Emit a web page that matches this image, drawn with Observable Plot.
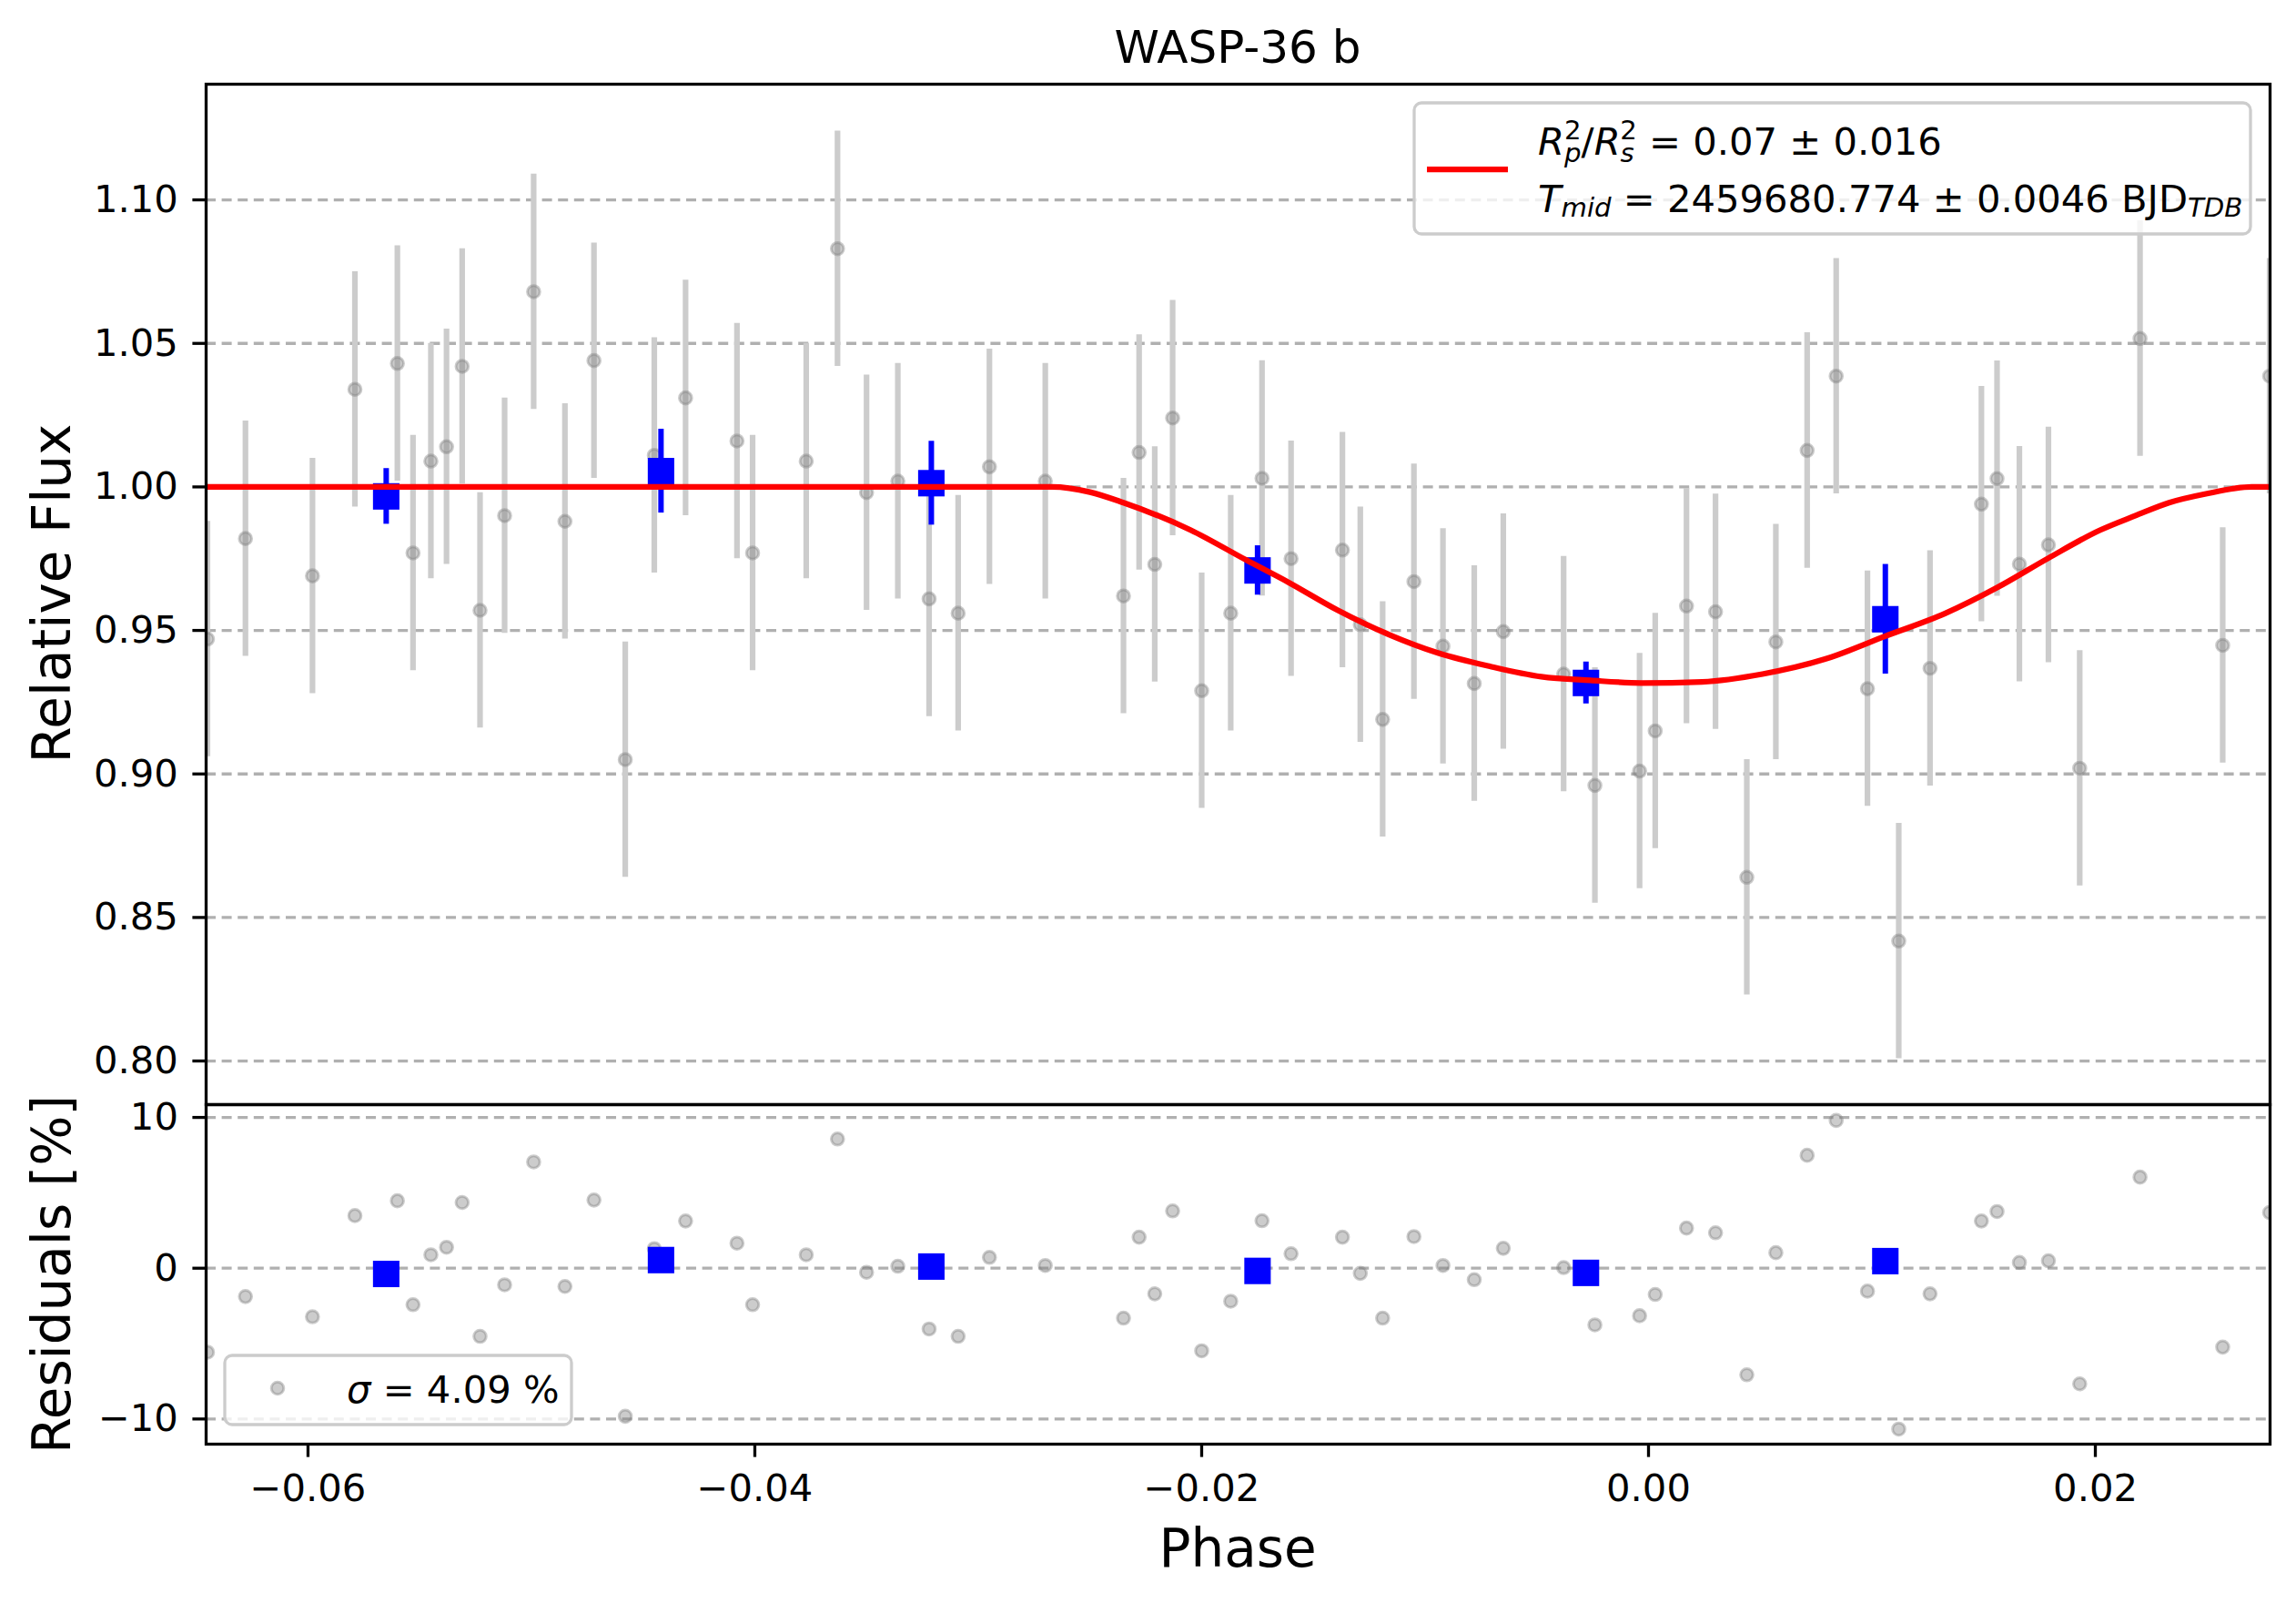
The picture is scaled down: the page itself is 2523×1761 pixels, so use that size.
<!DOCTYPE html>
<html><head><meta charset="utf-8">
<script src="https://cdn.jsdelivr.net/npm/d3@7"></script>
<script src="https://cdn.jsdelivr.net/npm/@observablehq/plot@0.6"></script>
<style>
html,body{margin:0;padding:0;background:#fff;}
#wrap{position:relative;width:2523px;height:1761px;background:#fff;font-family:"DejaVu Sans",sans-serif;}
#wrap > svg{position:absolute;left:0;}
</style></head><body><div id="wrap"></div>
<script>
// ---- data ----
const phase = [
-0.0645,-0.0628,-0.0598,-0.0579,-0.0560,-0.0553,-0.0545,-0.0538,-0.0531,-0.0523,-0.0512,-0.0499,-0.0485,-0.0472,-0.0458,-0.0445,-0.0431,
-0.0408,-0.0401,-0.0377,-0.0363,-0.0350,-0.0336,-0.0322,-0.0309,-0.0295,-0.0270,-0.0235,-0.0228,-0.0221,-0.0213,-0.0200,-0.0187,
-0.0173,-0.0160,-0.0137,-0.0129,-0.0119,-0.0105,-0.0092,-0.0078,-0.0065,-0.0038,-0.0024,-0.0004,0.0003,0.0017,0.0030,0.0044,
0.0057,0.0071,0.0084,0.0098,0.0112,0.0126,0.0149,0.0156,0.0166,0.0179,0.0193,0.0220,0.0257,0.0278];
const flux = [
0.947,0.982,0.969,1.034,1.043,0.977,1.009,1.014,1.042,0.957,0.990,1.068,0.988,1.044,0.905,1.011,1.031,
1.016,0.977,1.009,1.083,0.998,1.002,0.961,0.956,1.007,1.002,0.962,1.012,0.973,1.024,0.929,0.956,
1.003,0.975,0.978,0.952,0.919,0.967,0.9445,0.9315,0.9496,0.9348,0.896,0.901,0.915,0.9585,0.9565,0.864,
0.946,1.0127,1.0386,0.9297,0.8418,0.9368,0.994,1.0029,0.9731,0.9798,0.902,1.0517,0.9448,1.0386];
const resid = [
-5.57,-1.88,-3.22,3.49,4.47,-2.42,0.89,1.39,4.36,-4.52,-1.10,7.05,-1.21,4.52,-9.82,1.30,3.13,
1.66,-2.42,0.89,8.57,-0.27,0.13,-4.03,-4.52,0.72,0.18,-3.31,2.06,-1.70,3.80,-5.48,-2.19,
3.15,0.96,2.06,-0.34,-3.31,2.10,0.18,-0.76,1.32,0.04,-3.76,-3.15,-1.74,2.66,2.35,-7.07,
1.03,7.49,9.80,-1.52,-10.67,-1.70,3.13,3.76,0.38,0.49,-7.67,6.04,-5.23,3.69];
const fluxErr = 0.041;

const binPhase = [-0.0565,-0.0442,-0.0321,-0.0175,-0.0028,0.0106];
const binFlux  = [0.9967,1.0055,1.0013,0.9709,0.9317,0.9539];
const binErr   = [0.0097,0.0146,0.0146,0.0086,0.0073,0.0191];
const binResid = [-0.38,0.54,0.11,-0.18,-0.31,0.47];

const modelPhase = [-0.0646,-0.0267,-0.0250,-0.0235,-0.0205,-0.0180,-0.0161,-0.0139,-0.0116,-0.0094,-0.0071,-0.0048,-0.0026,-0.0003,0.0024,0.0051,0.0079,0.0106,0.0133,0.0156,0.0179,0.0202,0.0218,0.0233,0.0249,0.0270,0.0279];
const modelFlux  = [1.000,1.000,0.9982,0.9945,0.985,0.9745,0.9667,0.9570,0.9485,0.9421,0.9375,0.9339,0.9326,0.9317,0.9321,0.9348,0.9400,0.9480,0.9560,0.9649,0.9752,0.9849,0.9900,0.9945,0.9975,1.000,1.000];

const yTicksTop = [0.80,0.85,0.90,0.95,1.00,1.05,1.10];
const yTicksBottom = [-10,0,10];
const xTicks = [-0.06,-0.04,-0.02,0.00,0.02];

const title = "WASP-36 b";
const xLabel = "Phase";
const yLabelTop = "Relative Flux";
const yLabelBottom = "Residuals [%]";

// ---- tables ----
const pts = phase.map((p,i)=>({phase:p, flux:flux[i], resid:resid[i], lo:flux[i]-fluxErr, hi:flux[i]+fluxErr}));
const bins = binPhase.map((p,i)=>({phase:p, flux:binFlux[i], resid:binResid[i], lo:binFlux[i]-binErr[i], hi:binFlux[i]+binErr[i]}));
const model = modelPhase.map((p,i)=>({phase:p, flux:modelFlux[i]}));

const W = 2523, H = 1761;
const left = 226, right = 29, topY = 92, split = 1213, bottomFrame = 1586;
const xDomain = [-0.06456, 0.02782];
const fs = 41.7;
const style = {fontFamily:"DejaVu Sans", fontSize: fs+"px", background:"transparent", color:"black", overflow:"visible"};
const grid = {stroke:"#b0b0b0", strokeOpacity:1, strokeWidth:3.3, strokeDasharray:"11,6.6"};
const dotStyle = {r:6.8, fill:"gray", fillOpacity:0.4, stroke:"gray", strokeOpacity:0.4, strokeWidth:3, clip:true};

const topPlot = Plot.plot({
  width: W, height: split,
  marginTop: topY, marginBottom: 0, marginLeft: left, marginRight: right,
  style,
  x: {domain: xDomain, axis: null},
  y: {domain: [0.7848, 1.1403]},
  marks: [
    Plot.gridY(yTicksTop, grid),
    Plot.ruleX(pts, {x:"phase", y1:"lo", y2:"hi", stroke:"#cccccc", strokeWidth:6.2, clip:true}),
    Plot.dot(pts, {x:"phase", y:"flux", ...dotStyle}),
    Plot.ruleX(bins, {x:"phase", y1:"lo", y2:"hi", stroke:"blue", strokeWidth:6}),
    Plot.dot(bins, {x:"phase", y:"flux", symbol:"square", r:16.4, fill:"blue", stroke:"none"}),
    Plot.line(model, {x:"phase", y:"flux", stroke:"red", strokeWidth:6.25, curve:"monotone-x", clip:true}),
    Plot.frame({stroke:"black", strokeWidth:3.3}),
    Plot.axisY({ticks: yTicksTop, tickFormat: d3.format(".2f"), tickSize:14.6, tickPadding:16, strokeWidth:3.3, fontSize:fs, label:null})
  ]
});

const botPlot = Plot.plot({
  width: W, height: H - split,
  marginTop: 0, marginBottom: H - bottomFrame, marginLeft: left, marginRight: right,
  style,
  x: {domain: xDomain},
  y: {domain: [-11.67, 10.85]},
  marks: [
    Plot.gridY(yTicksBottom, grid),
    Plot.dot(pts, {x:"phase", y:"resid", ...dotStyle}),
    Plot.dot(bins, {x:"phase", y:"resid", symbol:"square", r:16.4, fill:"blue", stroke:"none"}),
    Plot.frame({stroke:"black", strokeWidth:3.3}),
    Plot.axisY({ticks: yTicksBottom, tickFormat: d3.format("d"), tickSize:14.6, tickPadding:16, strokeWidth:3.3, fontSize:fs, label:null}),
    Plot.axisX({ticks: xTicks, tickFormat: d3.format(".2f"), tickSize:14.6, tickPadding:18, strokeWidth:3.3, fontSize:fs, label:null})
  ]
});

const wrap = document.getElementById("wrap");
topPlot.style.top = "0px";
botPlot.style.top = split + "px";
wrap.appendChild(topPlot);
wrap.appendChild(botPlot);

// ---- titles, axis labels and legends ----
const ns = "http://www.w3.org/2000/svg";
const ov = document.createElementNS(ns, "svg");
ov.setAttribute("width", W); ov.setAttribute("height", H);
ov.style.top = "0px";
ov.setAttribute("font-family", "DejaVu Sans");
const sub = fs*0.7;
ov.innerHTML = `
<text x="1360" y="69" text-anchor="middle" font-size="50">${title}</text>
<text transform="translate(77,652) rotate(-90)" text-anchor="middle" font-size="58">${yLabelTop}</text>
<text transform="translate(77,1400) rotate(-90)" text-anchor="middle" font-size="58">${yLabelBottom}</text>
<text x="1360" y="1721" text-anchor="middle" font-size="58">${xLabel}</text>
<rect x="1554" y="113" width="919" height="144" rx="8" fill="white" fill-opacity="0.8" stroke="#cccccc" stroke-width="3.3"/>
<line x1="1568" x2="1657" y1="186" y2="186" stroke="red" stroke-width="6.25"/>
<text x="1690" y="170" font-size="${fs}"><tspan font-style="italic">R</tspan><tspan font-size="${sub}" font-style="italic" dy="8">p</tspan><tspan font-size="${sub}" dx="-18.5" dy="-25">2</tspan><tspan dy="17">/</tspan><tspan font-style="italic">R</tspan><tspan font-size="${sub}" font-style="italic" dy="8">s</tspan><tspan font-size="${sub}" dx="-15.6" dy="-25">2</tspan><tspan dy="17"> = 0.07 ± 0.016</tspan></text>
<text x="1690" y="233" font-size="${fs}"><tspan font-style="italic">T</tspan><tspan font-size="${sub}" font-style="italic" dy="5">mid</tspan><tspan dy="-5"> = 2459680.774 ± 0.0046 BJD</tspan><tspan font-size="${sub}" font-style="italic" dy="5">TDB</tspan></text>
<rect x="247" y="1489" width="381" height="76" rx="8" fill="white" fill-opacity="0.8" stroke="#cccccc" stroke-width="3.3"/>
<circle cx="305" cy="1525" r="6.8" fill="gray" fill-opacity="0.4" stroke="gray" stroke-opacity="0.4" stroke-width="3"/>
<text x="381" y="1541" font-size="${fs}"><tspan font-style="italic">σ</tspan> = 4.09 %</text>
`;
wrap.appendChild(ov);
</script>
</body></html>
